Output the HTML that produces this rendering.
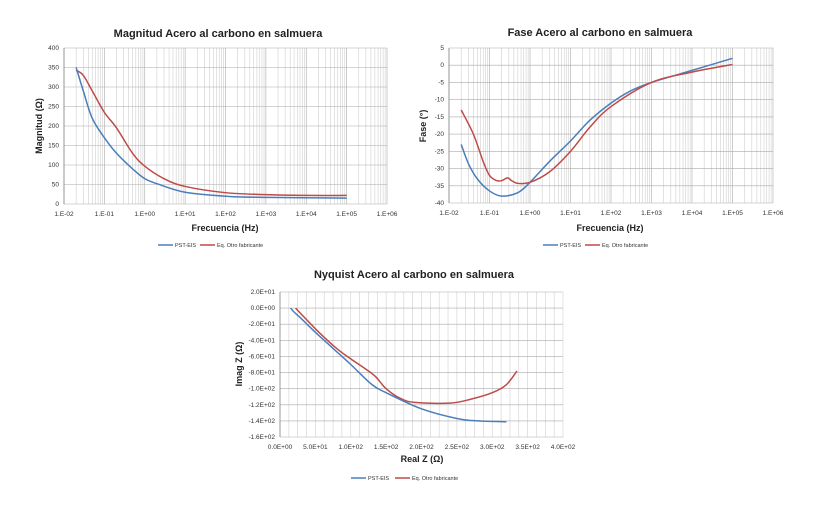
<!DOCTYPE html>
<html><head><meta charset="utf-8"><style>
body{margin:0;background:#fff;width:824px;height:504px;overflow:hidden}
svg{font-family:"Liberation Sans",sans-serif}
</style></head><body>
<svg id="s" width="824" height="504" xmlns="http://www.w3.org/2000/svg">
<g font-weight="bold" font-size="11" text-anchor="middle" fill="#222">
<text x="218" y="37">Magnitud Acero al carbono en salmuera</text>
<text x="600" y="36">Fase Acero al carbono en salmuera</text>
<text x="414" y="278">Nyquist Acero al carbono en salmuera</text>
<text x="225" y="231" font-size="9">Frecuencia (Hz)</text>
<text x="610" y="231" font-size="9">Frecuencia (Hz)</text>
<text x="422" y="462" font-size="9">Real Z (Ω)</text>
<text transform="translate(42,126) rotate(-90)" font-size="9">Magnitud (Ω)</text>
<text transform="translate(426,126) rotate(-90)" font-size="9">Fase (°)</text>
<text transform="translate(242,364) rotate(-90)" font-size="9">Imag Z (Ω)</text>
</g>
<g font-size="5.5" fill="#333">
<text x="175" y="247">PST-EIS</text><text x="217" y="247">Eq. Otro fabricante</text>
<text x="560" y="247">PST-EIS</text><text x="602" y="247">Eq. Otro fabricante</text>
<text x="368" y="480">PST-EIS</text><text x="412" y="480">Eq. Otro fabricante</text>
</g>
<g stroke-width="1.5">
<line x1="158" y1="245" x2="173" y2="245" stroke="#4a7ebb"/><line x1="200" y1="245" x2="215" y2="245" stroke="#be4b48"/>
<line x1="543" y1="245" x2="558" y2="245" stroke="#4a7ebb"/><line x1="585" y1="245" x2="600" y2="245" stroke="#be4b48"/>
<line x1="351" y1="478" x2="366" y2="478" stroke="#4a7ebb"/><line x1="395" y1="478" x2="410" y2="478" stroke="#be4b48"/>
</g>
</svg>
<script>
var s=document.getElementById('s'),NS='http://www.w3.org/2000/svg';
function el(t,a,txt){var e=document.createElementNS(NS,t);for(var k in a)e.setAttribute(k,a[k]);if(txt!=null)e.textContent=txt;s.appendChild(e);return e;}
function smooth(P){var d='M'+P[0][0]+','+P[0][1];for(var i=0;i<P.length-1;i++){var p0=P[i-1]||P[i],p1=P[i],p2=P[i+1],p3=P[i+2]||p2;
 d+=' C'+(p1[0]+(p2[0]-p0[0])/6)+','+(p1[1]+(p2[1]-p0[1])/6)+' '+(p2[0]-(p3[0]-p1[0])/6)+','+(p2[1]-(p3[1]-p1[1])/6)+' '+p2[0]+','+p2[1];}return d;}
var xl=['1.E-02','1.E-01','1.E+00','1.E+01','1.E+02','1.E+03','1.E+04','1.E+05','1.E+06'];
function logChart(x0,x1,y0,y1,ymin,ymax,ystep,ylabels,ser){
 var X=function(f){return x0+(Math.log10(f)+2)/8*(x1-x0)},Y=function(v){return y1-(v-ymin)/(ymax-ymin)*(y1-y0)};
 for(var d=-2;d<6;d++)for(var m=1;m<10;m++){var x=X(m*Math.pow(10,d));el('line',{x1:x,x2:x,y1:y0,y2:y1,stroke:m==1?'#aaa':'#d0d0d0','stroke-width':0.6});}
 el('line',{x1:x1,x2:x1,y1:y0,y2:y1,stroke:'#aaa','stroke-width':0.6});
 for(var i=0;i<ylabels.length;i++){var v=ymin+i*ystep,y=Y(v);el('line',{x1:x0,x2:x1,y1:y,y2:y,stroke:'#aaa','stroke-width':0.6});
  el('text',{x:x0-5,y:y+2,'font-size':6.5,'text-anchor':'end',fill:'#333'},ylabels[i]);}
 for(var i=0;i<9;i++)el('text',{x:X(Math.pow(10,i-2)),y:y1+12,'font-size':6.5,'text-anchor':'middle',fill:'#333'},xl[i]);
 el('line',{x1:x0,x2:x0,y1:y0,y2:y1,stroke:'#888','stroke-width':0.8});
 ser.forEach(function(sr){el('path',{d:smooth(sr[1].map(function(p){return [X(p[0]),Y(p[1])]})),fill:'none',stroke:sr[0],'stroke-width':1.5});});
}
var B='#4a7ebb',R='#be4b48';
logChart(64,387,48,204,0,400,50,['0','50','100','150','200','250','300','350','400'],[
[R,[[0.02,343],[0.03,330],[0.05,290],[0.1,235],[0.2,195],[0.5,130],[1,97],[3,65],[10,45],[100,29],[1e3,24],[1e4,22],[1e5,22]]],
[B,[[0.02,350],[0.03,290],[0.05,220],[0.1,170],[0.2,130],[0.5,90],[1,65],[2,52],[10,30],[100,20],[1e3,17],[1e5,15]]]]);
logChart(449,773,48,203,-40,5,5,['-40','-35','-30','-25','-20','-15','-10','-5','0','5'],[
[B,[[0.02,-23],[0.03,-28.5],[0.05,-33],[0.1,-36.5],[0.2,-38],[0.5,-37],[1,-34],[3,-28],[10,-22],[30,-16],[100,-11],[300,-7.5],[1e3,-5],[1e4,-1.5],[1e5,2]]],
[R,[[0.02,-13],[0.04,-20],[0.07,-28],[0.1,-32],[0.15,-33.5],[0.2,-33.5],[0.28,-32.7],[0.35,-33.5],[0.5,-34.3],[1,-34],[3,-31],[10,-25],[30,-18],[100,-12],[1e3,-5],[1e4,-2],[1e5,0.2]]]]);
(function(){var x0=280,x1=563,y0=292,y1=437,X=function(v){return x0+v/400*(x1-x0)},Y=function(v){return y1-(v+160)/180*(y1-y0)};
 for(var v=0;v<=400;v+=12.5){var x=X(v);el('line',{x1:x,x2:x,y1:y0,y2:y1,stroke:'#d0d0d0','stroke-width':0.6});}
 var yl=['-1.6E+02','-1.4E+02','-1.2E+02','-1.0E+02','-8.0E+01','-6.0E+01','-4.0E+01','-2.0E+01','0.0E+00','2.0E+01'];
 for(var i=0;i<10;i++){var y=Y(-160+20*i);el('line',{x1:x0,x2:x1,y1:y,y2:y,stroke:'#aaa','stroke-width':0.6});el('text',{x:x0-5,y:y+2,'font-size':6.5,'text-anchor':'end',fill:'#333'},yl[i]);}
 var xs=['0.0E+00','5.0E+01','1.0E+02','1.5E+02','2.0E+02','2.5E+02','3.0E+02','3.5E+02','4.0E+02'];
 for(var i=0;i<9;i++)el('text',{x:X(i*50),y:y1+12,'font-size':6.5,'text-anchor':'middle',fill:'#333'},xs[i]);
 el('line',{x1:x0,x2:x0,y1:y0,y2:y1,stroke:'#888','stroke-width':0.8});
 [[R,[[22,0],[35,-12],[55,-30],[80,-50],[100,-63],[120,-75],[135,-85],[150,-100],[170,-112],[190,-117],[240,-118],[270,-113],[300,-105],[320,-95],[335,-78]]],
  [B,[[15,0],[20,-5],[30,-13],[50,-30],[75,-50],[100,-70],[130,-95],[150,-105],[200,-125],[250,-137],[280,-140],[320,-141]]]].forEach(function(sr){
  el('path',{d:smooth(sr[1].map(function(p){return [X(p[0]),Y(p[1])]})),fill:'none',stroke:sr[0],'stroke-width':1.5});});
})();
</script>
</body></html>
